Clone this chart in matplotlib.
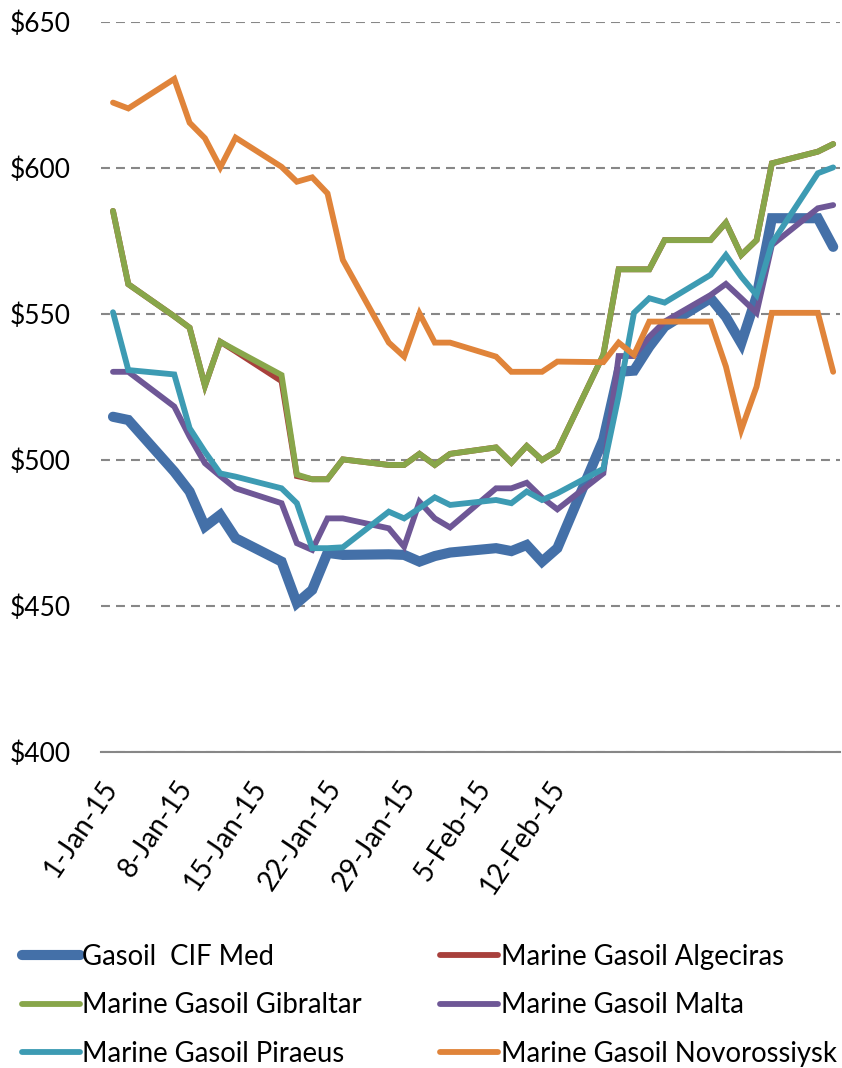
import numpy as np
import pandas as pd
import matplotlib
matplotlib.use("Agg")
import matplotlib.pyplot as plt
from matplotlib.transforms import ScaledTranslation

plt.rcParams['font.family'] = ['Lato', 'DejaVu Sans']

# business days with quotes
dates = pd.to_datetime([
    "2015-01-01", "2015-01-02", "2015-01-05", "2015-01-06", "2015-01-07",
    "2015-01-08", "2015-01-09", "2015-01-12", "2015-01-13", "2015-01-14",
    "2015-01-15", "2015-01-16", "2015-01-19", "2015-01-20", "2015-01-21",
    "2015-01-22", "2015-01-23", "2015-01-26", "2015-01-27", "2015-01-28",
    "2015-01-29", "2015-01-30", "2015-02-02", "2015-02-03", "2015-02-04",
    "2015-02-05", "2015-02-06", "2015-02-09", "2015-02-10", "2015-02-11",
    "2015-02-12", "2015-02-13", "2015-02-16", "2015-02-17"])

cif_med = [514.8, 513.7, 496.0, 489.2, 477.2, 481.2, 473.2, 465.2, 451.0, 455.5,
           468.2, 467.5, 467.7, 467.5, 465.2, 467.1, 468.3, 469.8, 468.8, 470.9,
           465.2, 469.8, 507.0, 530.2, 530.6, 538.8, 545.7, 555.4, 549.0, 540.0,
           556.0, 582.8, 582.8, 573.0]
algeciras = [585.3, 560.2, 549.2, 545.3, 525.4, 540.5, 537.2, 527.0, 494.5, 493.4,
             493.4, 500.2, 498.3, 498.3, 502.1, 498.3, 502.1, 504.3, 499.1, 504.8,
             500.0, 503.2, 536.0, 565.3, 565.3, 565.3, 575.3, 575.3, 581.3, 570.2,
             575.3, 601.6, 605.6, 608.2]
gibraltar = [585.3, 560.2, 549.2, 545.3, 525.4, 540.5, 537.6, 529.1, 495.0, 493.4,
             493.4, 500.2, 498.3, 498.3, 502.1, 498.3, 502.1, 504.3, 499.1, 504.8,
             500.0, 503.2, 536.0, 565.3, 565.3, 565.3, 575.3, 575.3, 581.3, 570.2,
             575.3, 601.6, 605.6, 608.2]
malta = [530.2, 530.2, 518.3, 508.0, 498.9, 494.5, 490.3, 485.2, 471.5, 469.2,
         480.0, 480.0, 476.6, 470.3, 485.7, 480.0, 476.9, 490.3, 490.3, 492.2,
         487.1, 483.1, 495.4, 535.6, 535.6, 542.2, 547.4, 556.5, 560.3, 555.4,
         550.4, 573.6, 586.2, 587.3]
piraeus = [550.6, 530.8, 529.3, 510.9, 502.8, 495.4, 494.3, 490.3, 485.2, 469.8,
           469.8, 470.1, 482.3, 480.0, 483.5, 487.2, 484.6, 486.3, 485.2, 489.2,
           486.3, 488.6, 497.0, 522.0, 550.4, 555.4, 553.9, 563.4, 570.2, 562.8,
           556.5, 574.2, 598.2, 600.2]
novorossiysk = [622.4, 620.4, 630.5, 615.5, 610.2, 600.2, 610.4, 600.4, 595.3, 596.8,
                591.3, 568.5, 540.2, 535.4, 550.2, 540.2, 540.2, 535.4, 530.2, 530.2,
                530.2, 533.7, 533.5, 540.2, 536.0, 547.4, 547.4, 547.4, 532.0, 510.3,
                525.1, 550.4, 550.4, 530.2]

tick_labels = ["1-Jan-15", "8-Jan-15", "15-Jan-15", "22-Jan-15",
               "29-Jan-15", "5-Feb-15", "12-Feb-15"]
y_ticks = [400, 450, 500, 550, 600, 650]

days = (dates - dates[0]).days.values

series = [
    ("Gasoil  CIF Med", cif_med, "#4470a8", 7.3),
    ("Marine Gasoil Algeciras", algeciras, "#a8403c", 4.2),
    ("Marine Gasoil Gibraltar", gibraltar, "#88a64a", 4.2),
    ("Marine Gasoil Malta", malta, "#6e5796", 4.2),
    ("Marine Gasoil Piraeus", piraeus, "#3d9bb3", 4.2),
    ("Marine Gasoil Novorossiysk", novorossiysk, "#e0843a", 4.2),
]

fig = plt.figure(figsize=(8.42, 10.68), dpi=100)
ax = fig.add_axes([0.12, 0.2959, 0.8777, 0.6835])

handles = {}
for name, vals, col, lw in series:
    ln, = ax.plot(days, vals, color=col, lw=lw, solid_joinstyle='miter',
                  solid_capstyle='round', label=name, zorder=3)
    handles[name] = ln

ax.set_ylim(400, 650)
ax.set_xlim(-0.78, 47.45)
ax.set_yticks(y_ticks)
ax.set_yticklabels(["$%d" % v for v in y_ticks], fontsize=19)

# the category labels sit on a ~4.9 day step in the source chart
ax.set_xticks(np.arange(len(tick_labels)) * 4.87)
ax.set_xticklabels(tick_labels, fontsize=20, rotation=56, ha='right', va='top',
                   rotation_mode='anchor')

ax.tick_params(axis='both', length=0)
ax.tick_params(axis='y', pad=22)
ax.tick_params(axis='x', pad=17)

# nudge the rotated labels left so their ends sit where the source has them
shift = ScaledTranslation(-12 / 100, 0, fig.dpi_scale_trans)
for lab in ax.get_xticklabels():
    lab.set_transform(lab.get_transform() + shift)

ax.yaxis.grid(True, color='#878787', lw=1.5, linestyle=(0, (4.3, 2.9)))
ax.set_axisbelow(True)
for s in ['left', 'right', 'top']:
    ax.spines[s].set_visible(False)
ax.spines['bottom'].set_color('#878787')
ax.spines['bottom'].set_linewidth(1.5)

order = ["Gasoil  CIF Med", "Marine Gasoil Gibraltar", "Marine Gasoil Piraeus",
         "Marine Gasoil Algeciras", "Marine Gasoil Malta", "Marine Gasoil Novorossiysk"]
leg = fig.legend([handles[n] for n in order], order, loc='upper left',
                 bbox_to_anchor=(0.013, 0.1265), ncol=2, frameon=False,
                 fontsize=19.8, handlelength=2.1,
                 handletextpad=0.1, columnspacing=2.84, labelspacing=0.82,
                 borderaxespad=0)

fig.savefig("out.png", dpi=100)
